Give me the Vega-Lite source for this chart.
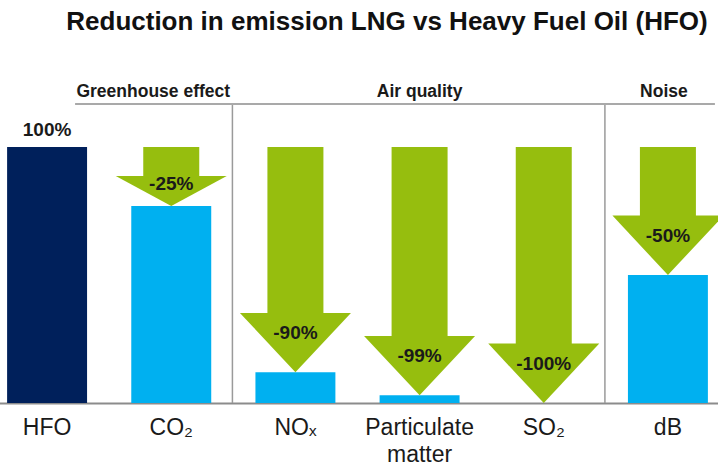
{
  "$schema": "https://vega.github.io/schema/vega-lite/v6.json",
  "width": 718,
  "height": 359,
  "autosize": "none",
  "padding": {"top": 44, "left": 0, "right": 0, "bottom": 70},
  "background": "white",
  "title": {"text": "Reduction in emission LNG vs Heavy Fuel Oil (HFO)", "font": "Liberation Sans", "fontSize": 26, "fontWeight": "bold", "color": "#111111", "anchor": "middle", "dx": 28, "offset": 9},
  "config": {"view": {"stroke": null}, "font": "Liberation Sans"},
  "data": {"values": [
    {"item": "HFO", "value": 100, "reference": 100, "change": ""},
    {"item": "CO₂", "value": 77, "reference": 100, "change": "-25%"},
    {"item": "NOₓ", "value": 12, "reference": 100, "change": "-90%"},
    {"item": "Particulate matter", "value": 3, "reference": 100, "change": "-99%"},
    {"item": "SO₂", "value": 0, "reference": 100, "change": "-100%"},
    {"item": "dB", "value": 50, "reference": 100, "change": "-50%"}
  ]},
  "layer": [
    {
      "mark": {"type": "bar"},
      "encoding": {
        "x": {"field": "item", "type": "nominal", "sort": null,
          "scale": {"domain": ["HFO", "CO₂", "NOₓ", "Particulate matter", "SO₂", "dB"], "range": [-15, 730], "paddingInner": 0.356, "paddingOuter": 0.178},
          "axis": {"title": null, "ticks": false, "domainColor": "#8c8c8c", "domainWidth": 2, "labelAngle": 0, "labelOverlap": false,
            "labelFont": "Liberation Sans", "labelColor": "#1a1a1a", "labelPadding": 13, "labelBaseline": "top", "labelLineHeight": 27,
            "labelFontSize": 23,
            "labelExpr": "datum.value == 'Particulate matter' ? ['Particulate', 'matter'] : datum.label"}},
        "y": {"field": "value", "type": "quantitative", "scale": {"domain": [0, 140.234], "nice": false, "zero": true}, "axis": null},
        "color": {"condition": {"test": "datum.item == 'HFO'", "value": "#00205B"}, "value": "#00B0F0"}
      }
    },
    {
      "transform": [{"filter": "datum.item != 'HFO' && datum.item != 'CO₂'"}],
      "mark": {"type": "bar", "width": 56, "color": "#96BE0E", "y2Offset": -59},
      "encoding": {
        "x": {"field": "item", "type": "nominal"},
        "y": {"field": "reference", "type": "quantitative"},
        "y2": {"field": "value"}
      }
    },
    {
      "transform": [{"filter": "datum.item == 'CO₂'"}],
      "mark": {"type": "bar", "width": 56, "color": "#96BE0E", "y2Offset": -29},
      "encoding": {
        "x": {"field": "item", "type": "nominal"},
        "y": {"field": "reference", "type": "quantitative"},
        "y2": {"field": "value"}
      }
    },
    {
      "transform": [{"filter": "datum.item != 'HFO' && datum.item != 'CO₂'"}],
      "mark": {"type": "point", "filled": true, "opacity": 1, "color": "#96BE0E", "size": 12321, "strokeWidth": 0, "shape": "M-1,-1.07L1,-1.07L0,0Z"},
      "encoding": {
        "x": {"field": "item", "type": "nominal"},
        "y": {"field": "value", "type": "quantitative"}
      }
    },
    {
      "transform": [{"filter": "datum.item == 'CO₂'"}],
      "mark": {"type": "point", "filled": true, "opacity": 1, "color": "#96BE0E", "size": 12321, "strokeWidth": 0, "shape": "M-1,-0.54L1,-0.54L0,0Z"},
      "encoding": {
        "x": {"field": "item", "type": "nominal"},
        "y": {"field": "value", "type": "quantitative"}
      }
    },
    {
      "transform": [{"filter": "datum.item != 'HFO' && datum.item != 'CO₂'"}],
      "mark": {"type": "text", "dy": -39, "fontSize": 19, "fontWeight": "bold", "color": "#1a1a1a", "baseline": "middle"},
      "encoding": {
        "x": {"field": "item", "type": "nominal"},
        "y": {"field": "value", "type": "quantitative"},
        "text": {"field": "change"}
      }
    },
    {
      "transform": [{"filter": "datum.item == 'CO₂'"}],
      "mark": {"type": "text", "dy": -22, "fontSize": 19, "fontWeight": "bold", "color": "#1a1a1a", "baseline": "middle"},
      "encoding": {
        "x": {"field": "item", "type": "nominal"},
        "y": {"field": "value", "type": "quantitative"},
        "text": {"field": "change"}
      }
    },
    {
      "transform": [{"filter": "datum.item == 'HFO'"}],
      "mark": {"type": "text", "dy": -17, "fontSize": 19, "fontWeight": "bold", "color": "#1a1a1a", "baseline": "middle", "text": "100%"},
      "encoding": {
        "x": {"field": "item", "type": "nominal"},
        "y": {"field": "value", "type": "quantitative"}
      }
    },
    {
      "data": {"values": [{"from": "HFO", "to": "dB", "level": 116.8}]},
      "mark": {"type": "rule", "color": "#8c8c8c", "strokeWidth": 1.5, "xOffset": 28, "x2Offset": 47},
      "encoding": {
        "x": {"field": "from", "type": "nominal"},
        "x2": {"field": "to"},
        "y": {"field": "level", "type": "quantitative"}
      }
    },
    {
      "transform": [{"filter": "datum.item == 'NOₓ' || datum.item == 'dB'"}],
      "mark": {"type": "rule", "color": "#9a9a9a", "strokeWidth": 1.5, "xOffset": -63, "yOffset": 61},
      "encoding": {
        "x": {"field": "item", "type": "nominal"}
      }
    },
    {
      "transform": [{"filter": "datum.item == 'CO₂'"}],
      "mark": {"type": "text", "dx": -18, "fontSize": 17.5, "fontWeight": "bold", "color": "#1a1a1a", "baseline": "middle", "text": "Greenhouse effect"},
      "encoding": {
        "x": {"field": "item", "type": "nominal"},
        "y": {"datum": 121.5, "type": "quantitative"}
      }
    },
    {
      "transform": [{"filter": "datum.item == 'Particulate matter'"}],
      "mark": {"type": "text", "fontSize": 17.5, "fontWeight": "bold", "color": "#1a1a1a", "baseline": "middle", "text": "Air quality"},
      "encoding": {
        "x": {"field": "item", "type": "nominal"},
        "y": {"datum": 121.5, "type": "quantitative"}
      }
    },
    {
      "transform": [{"filter": "datum.item == 'dB'"}],
      "mark": {"type": "text", "dx": -4, "fontSize": 17.5, "fontWeight": "bold", "color": "#1a1a1a", "baseline": "middle", "text": "Noise"},
      "encoding": {
        "x": {"field": "item", "type": "nominal"},
        "y": {"datum": 121.5, "type": "quantitative"}
      }
    }
  ]
}
